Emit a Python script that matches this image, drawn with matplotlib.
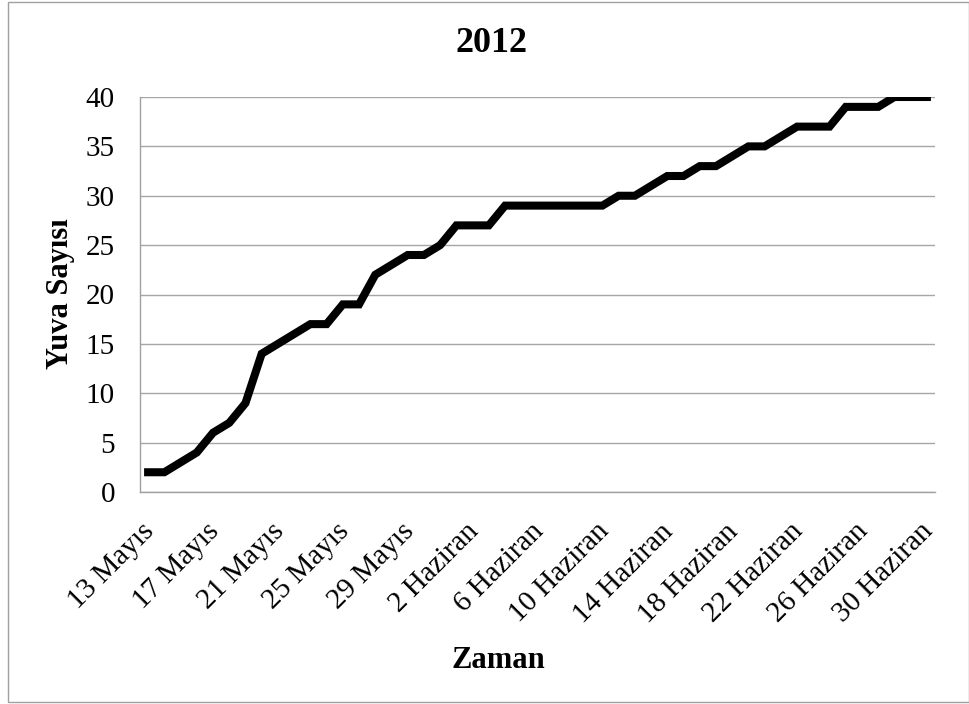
import datetime as dt
import matplotlib
matplotlib.use('Agg')
import matplotlib.pyplot as plt
from matplotlib.patches import Rectangle
from matplotlib.transforms import ScaledTranslation

# Veriler: 13 Mayis - 30 Haziran 2012 arasi gunluk yuva sayisi
start_date = dt.date(2012, 5, 13)
nest_counts = [2, 2, 3, 4, 6, 7, 9, 14, 15, 16, 17, 17, 19, 19, 22, 23, 24, 24, 25,
               27, 27, 27, 29, 29, 29, 29, 29, 29, 29, 30, 30, 31, 32, 32, 33, 33,
               34, 35, 35, 36, 37, 37, 37, 39, 39, 39, 40, 40, 40]
month_names = {5: 'Mayıs', 6: 'Haziran'}
y_ticks = [0, 5, 10, 15, 20, 25, 30, 35, 40]

dates = [start_date + dt.timedelta(days=i) for i in range(len(nest_counts))]
labels = [f'{d.day} {month_names[d.month]}' for d in dates]
x = list(range(len(nest_counts)))

plt.rcParams['font.family'] = ['Liberation Serif', 'DejaVu Serif']

fig = plt.figure(figsize=(9.7, 7.04), dpi=100)
W, H = 970, 704

# dis cerceve
fig.patches.append(Rectangle((8 / W, 2 / H), 961 / W, 700 / H, transform=fig.transFigure,
                             fill=False, edgecolor='#a0a0a0', linewidth=1))

ax = fig.add_axes([140 / W, (H - 492) / H, 795 / W, 395 / H])
ax.plot(x, nest_counts, color='black', linewidth=5.8, solid_joinstyle='miter')

ax.set_xlim(-0.5, len(nest_counts) - 0.5)
ax.set_ylim(0, 40)
ax.set_yticks(y_ticks)
ax.set_yticklabels([str(v) for v in y_ticks], fontsize=21)
ax.grid(axis='y', color='#a6a6a6', linewidth=1)
ax.set_axisbelow(True)

tick_idx = x[::4]
ax.set_xticks(tick_idx)
ax.set_xticklabels([labels[i] for i in tick_idx], fontsize=21, rotation=45,
                   ha='right', va='top', rotation_mode='anchor')
ax.tick_params(axis='both', length=0)
ax.tick_params(axis='x', pad=19)
ax.tick_params(axis='y', pad=18)
# etiketleri biraz sola kaydir
shift = ScaledTranslation(-0.07, 0, fig.dpi_scale_trans)
for lbl in ax.get_xticklabels():
    lbl.set_transform(lbl.get_transform() + shift)

for side in ['top', 'right']:
    ax.spines[side].set_visible(False)
for side in ['left', 'bottom']:
    ax.spines[side].set_color('#a0a0a0')
    ax.spines[side].set_linewidth(1)

fig.text(492 / W, 1 - 43 / H, '2012', fontsize=26, fontweight='bold',
         ha='center', va='center')
fig.text(498 / W, 1 - 661 / H, 'Zaman', fontsize=22, fontweight='bold',
         ha='center', va='center')
fig.text(61 / W, 1 - 294 / H, 'Yuva Sayısı', fontsize=22, fontweight='bold',
         ha='center', va='center', rotation=90)

fig.savefig('out.png', dpi=100)
